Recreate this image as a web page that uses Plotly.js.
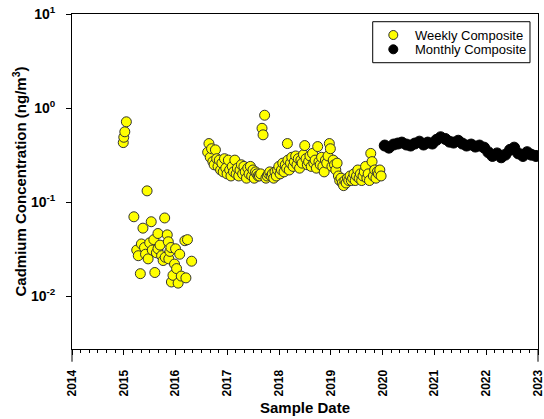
<!DOCTYPE html>
<html>
<head>
<meta charset="utf-8">
<script src="https://cdn.plot.ly/plotly-3.0.1.min.js"></script>
<style>html,body{margin:0;padding:0;background:#fff;}#chart{width:544px;height:419px;}</style>
</head>
<body>
<div id="chart"></div>
<script>
// Weekly composite, decimal year and Cd (ng/m3)
const weeklyYear2015 = [2014.99, 2015.00, 2015.02, 2015.05,
  2015.195, 2015.25, 2015.28, 2015.32, 2015.34, 2015.37, 2015.40, 2015.42, 2015.45, 2015.47, 2015.50,
  2015.53, 2015.55, 2015.58, 2015.60, 2015.63, 2015.66, 2015.66, 2015.70, 2015.73, 2015.76, 2015.79,
  2015.80, 2015.84, 2015.86, 2015.87, 2015.89, 2015.91, 2015.92, 2015.95, 2015.98, 2016.00, 2016.02,
  2016.05, 2016.08, 2016.11, 2016.18, 2016.20, 2016.23, 2016.31];
const weeklyCd2015 = [0.43, 0.49, 0.56, 0.715,
  0.070, 0.031, 0.027, 0.0174, 0.036, 0.053, 0.033, 0.028, 0.132, 0.025, 0.037,
  0.062, 0.031, 0.040, 0.0179, 0.029, 0.0465, 0.032, 0.035, 0.027, 0.024, 0.068,
  0.026, 0.045, 0.038, 0.025, 0.030, 0.033, 0.0142, 0.0167, 0.022, 0.032, 0.0197,
  0.0138, 0.028, 0.0164, 0.039, 0.0157, 0.040, 0.0236];

const weeklyYear2016 = [2016.62, 2016.645, 2016.67, 2016.695, 2016.72, 2016.745, 2016.77, 2016.795, 2016.82, 2016.845, 2016.87, 2016.895, 2016.92, 2016.945, 2016.97,
  2016.995, 2017.02, 2017.045, 2017.07, 2017.095, 2017.12, 2017.145, 2017.17, 2017.195, 2017.22, 2017.245, 2017.27, 2017.295, 2017.32, 2017.345, 2017.37, 2017.395, 2017.42, 2017.445, 2017.47, 2017.495, 2017.52, 2017.545, 2017.57, 2017.595,
  2017.62, 2017.645, 2017.67, 2017.69, 2017.72, 2017.745, 2017.77, 2017.795, 2017.82, 2017.845, 2017.87, 2017.895, 2017.92, 2017.945, 2017.97];
const weeklyCd2016 = [0.34, 0.42, 0.30, 0.37, 0.27, 0.25, 0.36, 0.29, 0.24, 0.28, 0.22, 0.26, 0.21, 0.29, 0.23,
  0.20, 0.28, 0.22, 0.19, 0.24, 0.21, 0.28, 0.20, 0.23, 0.19, 0.22, 0.25, 0.20, 0.24, 0.21, 0.18, 0.23, 0.20, 0.24, 0.19, 0.22, 0.18, 0.21, 0.20, 0.19,
  0.19, 0.20, 0.61, 0.52, 0.84, 0.18, 0.19, 0.20, 0.21, 0.19, 0.20, 0.18, 0.21, 0.19, 0.22];

const weeklyYear2018 = [2017.995, 2018.02, 2018.045, 2018.07, 2018.095, 2018.12, 2018.145, 2018.16, 2018.17, 2018.195, 2018.22, 2018.245, 2018.27, 2018.295, 2018.32, 2018.345, 2018.37, 2018.395, 2018.42, 2018.445, 2018.47, 2018.495,
  2018.52, 2018.545, 2018.57, 2018.595, 2018.62, 2018.645, 2018.67, 2018.695, 2018.72, 2018.745, 2018.77, 2018.795, 2018.82, 2018.845, 2018.87, 2018.895, 2018.92, 2018.945, 2018.97, 2018.99, 2019.02, 2019.045, 2019.07, 2019.095, 2019.12,
  2019.145, 2019.17, 2019.195, 2019.22, 2019.245, 2019.27, 2019.295, 2019.32, 2019.345, 2019.37, 2019.395, 2019.42, 2019.445, 2019.47, 2019.495, 2019.52, 2019.545, 2019.57, 2019.595, 2019.62, 2019.645, 2019.67, 2019.695, 2019.72, 2019.745, 2019.77, 2019.795, 2019.82, 2019.845, 2019.87, 2019.895, 2019.92, 2019.945, 2019.97];
const weeklyCd2018 = [0.24, 0.20, 0.22, 0.26, 0.21, 0.25, 0.23, 0.42, 0.28, 0.22, 0.26, 0.30, 0.24, 0.27, 0.31, 0.25, 0.29, 0.23, 0.28, 0.26, 0.32, 0.40,
  0.29, 0.25, 0.27, 0.31, 0.24, 0.33, 0.26, 0.28, 0.23, 0.39, 0.27, 0.25, 0.30, 0.24, 0.21, 0.28, 0.26, 0.31, 0.42, 0.37, 0.24, 0.28, 0.25, 0.22, 0.26,
  0.19, 0.17, 0.18, 0.16, 0.15, 0.17, 0.16, 0.18, 0.17, 0.19, 0.17, 0.18, 0.20, 0.17, 0.19, 0.22, 0.18, 0.20, 0.17, 0.19, 0.21, 0.24, 0.18, 0.20, 0.17, 0.33, 0.27, 0.19, 0.22, 0.18, 0.21, 0.20, 0.22, 0.19];

// Monthly composite (2020-2022)
const monthlyYear = [2020.04, 2020.12, 2020.21, 2020.29, 2020.37, 2020.46, 2020.54, 2020.62, 2020.71, 2020.79, 2020.87, 2020.96,
  2021.04, 2021.12, 2021.21, 2021.29, 2021.37, 2021.46, 2021.54, 2021.62, 2021.71, 2021.79, 2021.87, 2021.96,
  2022.04, 2022.12, 2022.21, 2022.29, 2022.37, 2022.46, 2022.54, 2022.62, 2022.71, 2022.79, 2022.87, 2022.96];
const monthlyCd = [0.40, 0.38, 0.41, 0.42, 0.43, 0.41, 0.40, 0.42, 0.44, 0.41, 0.43, 0.42,
  0.46, 0.49, 0.47, 0.44, 0.43, 0.45, 0.42, 0.40, 0.41, 0.39, 0.40, 0.38,
  0.34, 0.31, 0.33, 0.30, 0.32, 0.36, 0.38, 0.33, 0.31, 0.34, 0.32, 0.31];

const seriesNames = ['Weekly Composite', 'Monthly Composite'];
const seriesColors = ['#ffff00', '#000000'];
const yTickVals = [0.01, 0.1, 1, 10];
const yTickText = ['10<sup>-2</sup>', '10<sup>-1</sup>', '10<sup>0</sup>', '10<sup>1</sup>'];
const xTickVals = [2014, 2015, 2016, 2017, 2018, 2019, 2020, 2021, 2022, 2023];
const xTickText = ['2014', '2015', '2016', '2017', '2018', '2019', '2020', '2021', '2022', '2023'];

const FONT = 'Arial, "Liberation Sans", sans-serif';

const traces = [
  {
    name: seriesNames[0], type: 'scatter', mode: 'markers', showlegend: false,
    x: weeklyYear2015.concat(weeklyYear2016, weeklyYear2018),
    y: weeklyCd2015.concat(weeklyCd2016, weeklyCd2018),
    marker: {color: seriesColors[0], size: 10, line: {color: '#333333', width: 1}}
  },
  {
    name: seriesNames[1], type: 'scatter', mode: 'markers', showlegend: false,
    x: monthlyYear, y: monthlyCd,
    marker: {color: seriesColors[1], size: 11, line: {color: '#000000', width: 1}}
  }
];

// legend drawn in paper coordinates (box, swatches, labels)
const legX0 = 0.6453, legX1 = 0.9828, legY0 = 0.8546, legY1 = 0.977;
const swatchX = 0.6895, swatchY = [0.9373, 0.8946], labelX = 0.733;
const shapes = [
  {type: 'rect', xref: 'paper', yref: 'paper', x0: legX0, x1: legX1, y0: legY0, y1: legY1,
   line: {color: '#000', width: 1}, fillcolor: '#fff', layer: 'above'},
  // y-axis line extension below x axis and at right end
  {type: 'line', xref: 'paper', yref: 'paper', x0: 0, x1: 0, y0: 0, y1: -0.038, line: {color: '#000', width: 1}},
  {type: 'line', xref: 'paper', yref: 'paper', x0: 1, x1: 1, y0: 0, y1: -0.038, line: {color: '#000', width: 1}}
];
seriesNames.forEach((n, i) => {
  shapes.push({type: 'circle', xref: 'paper', yref: 'paper', xsizemode: 'pixel', ysizemode: 'pixel',
    xanchor: swatchX, yanchor: swatchY[i], x0: -4.5, x1: 4.5, y0: -4.5, y1: 4.5,
    fillcolor: seriesColors[i], line: {color: i === 0 ? '#333333' : '#000', width: 1}, layer: 'above'});
});
const annotations = seriesNames.map((n, i) => ({
  text: n, xref: 'paper', yref: 'paper', x: labelX, y: swatchY[i], xanchor: 'left', yanchor: 'middle',
  showarrow: false, font: {family: FONT, size: 13, color: '#000'}, borderpad: 0
}));

const layout = {
  width: 544, height: 419,
  margin: {l: 72, r: 6, t: 14, b: 70},
  paper_bgcolor: '#ffffff', plot_bgcolor: '#ffffff',
  font: {family: FONT, color: '#000', size: 12},
  showlegend: false,
  shapes: shapes, annotations: annotations,
  xaxis: {
    type: 'linear', range: [2014, 2023], autorange: false,
    tickmode: 'array', tickvals: xTickVals, ticktext: xTickText,
    tickangle: -90, ticks: 'outside', ticklen: 5, tickwidth: 1, tickcolor: '#000',
    minor: {dtick: 1/6, tick0: 2014, ticks: 'outside', ticklen: 3, tickwidth: 1, tickcolor: '#000', showgrid: false},
    showgrid: false, zeroline: false, showline: true, linecolor: '#000', linewidth: 1, mirror: true,
    tickfont: {family: FONT, size: 12, weight: 'bold', color: '#000'},
    ticklabelstandoff: 10, ticklabeloverflow: 'allow',
    title: {text: 'Sample Date', font: {family: FONT, size: 15, weight: 'bold', color: '#000'}, standoff: 6},
    automargin: false
  },
  yaxis: {
    type: 'log', range: [-2.56, 1], autorange: false,
    tickmode: 'array', tickvals: yTickVals, ticktext: yTickText,
    ticks: 'outside', ticklen: 5, tickwidth: 1, tickcolor: '#000',
    showgrid: false, zeroline: false, showline: true, linecolor: '#000', linewidth: 1, mirror: true,
    tickfont: {family: FONT, size: 14, weight: 'bold', color: '#000'},
    ticklabelstandoff: 8, ticklabeloverflow: 'allow',
    title: {text: 'Cadmium Concentration (ng/m<sup>3</sup>)', font: {family: FONT, size: 15, weight: 'bold', color: '#000'}, standoff: 0},
    automargin: false
  }
};

Plotly.newPlot('chart', traces, layout, {displayModeBar: false, staticPlot: true});
</script>
</body>
</html>
